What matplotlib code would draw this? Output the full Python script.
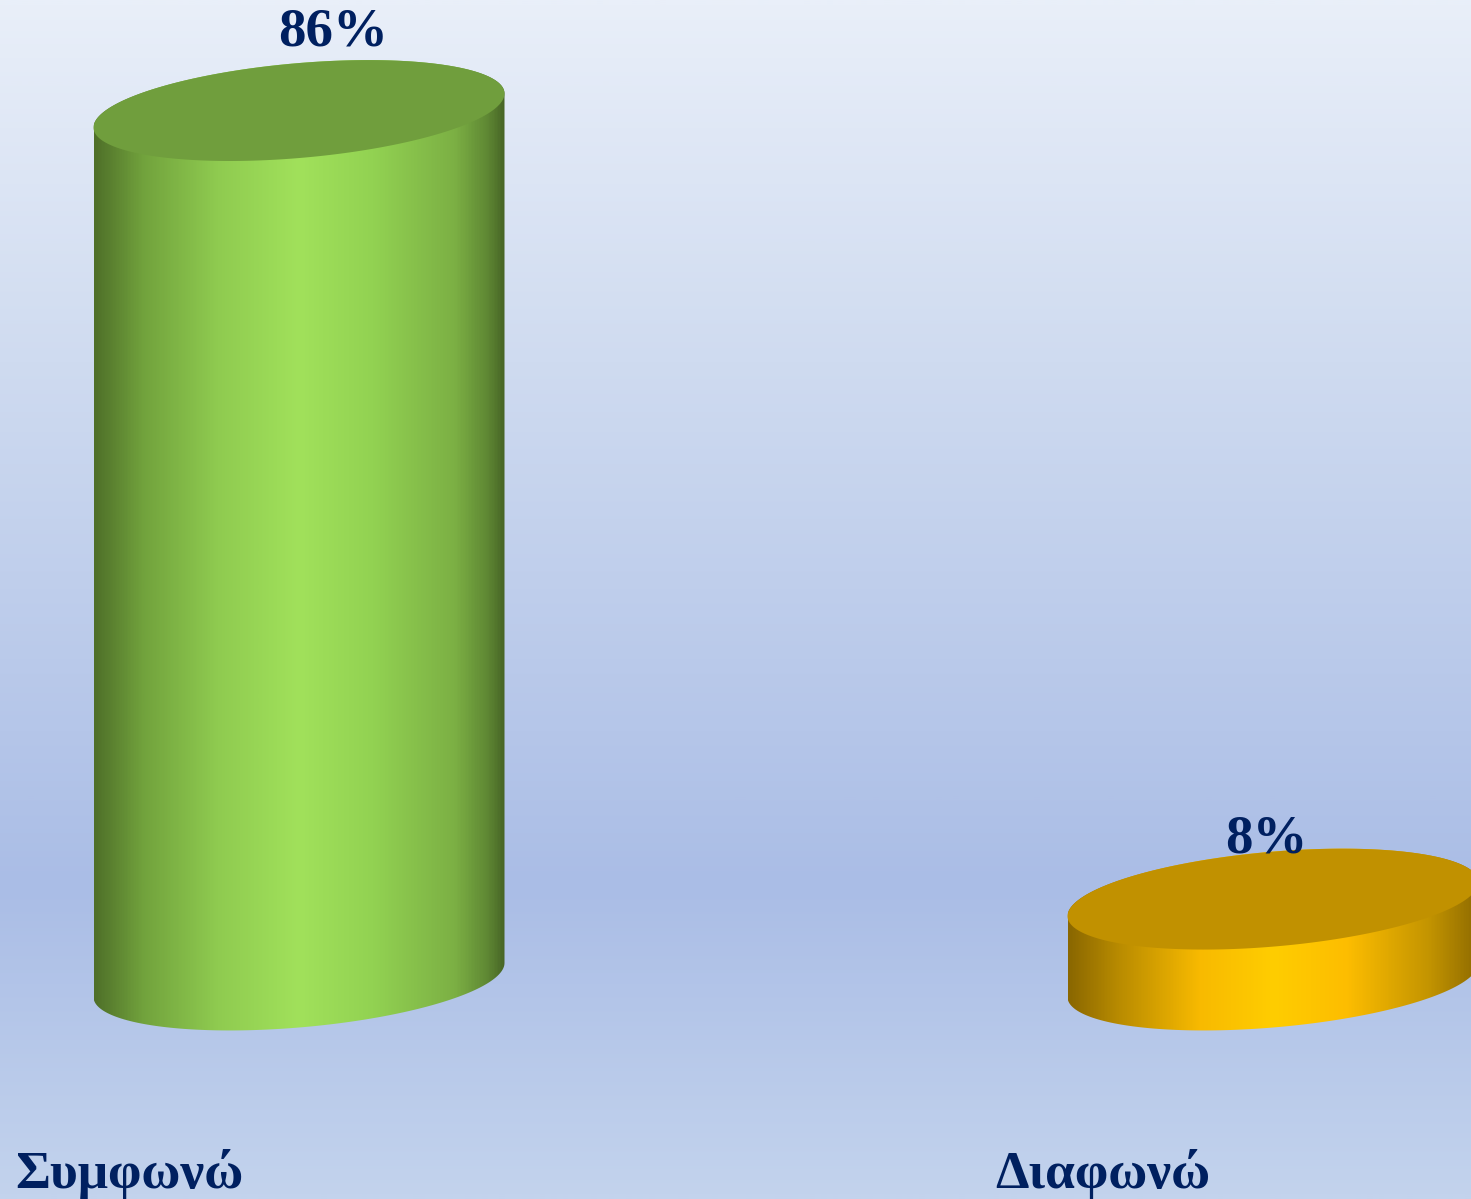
import numpy as np
import matplotlib
matplotlib.use("Agg")
import matplotlib.pyplot as plt
from matplotlib.colors import LinearSegmentedColormap
from matplotlib.patches import Polygon

categories = ["Συμφωνώ", "Διαφωνώ"]
values = [86, 8]
value_labels = ["86%", "8%"]

side_colors = [
    [(0, "#4f7029"), (0.12, "#72a33d"), (0.3, "#8fcb50"), (0.5, "#a1e15b"),
     (0.68, "#92d252"), (0.88, "#7cb044"), (0.96, "#5f8834"), (1, "#486626")],
    [(0, "#8a6700"), (0.12, "#b88b00"), (0.32, "#f8ba00"), (0.5, "#ffcd00"),
     (0.68, "#fdbd00"), (0.88, "#c39400"), (1, "#8f6b00")],
]
top_colors = ["#709e3d", "#c19100"]
text_color = "#002060"

bg_stops = [(0, "#e9eff9"), (0.3, "#cfdbf0"), (0.74, "#aabde6"), (1, "#c3d3ed")]

# pixels per unit on the two axes
px_x = 974.0
px_y = 10.11
half_w = 205.5 / px_x
half_h = 47.5 / px_y
skew = 17 / px_y

fig = plt.figure(figsize=(14.71, 11.99), dpi=100)
ax = fig.add_axes([0, 0, 1, 1])
xlim = (-299 / px_x, (1471 - 299) / px_x)
ylim = (-(1199 - 980) / px_y, 980 / px_y)

bg = LinearSegmentedColormap.from_list("bg", bg_stops)
ax.imshow(np.linspace(0, 1, 600).reshape(-1, 1), cmap=bg, aspect="auto",
          extent=(xlim[0], xlim[1], ylim[0], ylim[1]), origin="upper", zorder=0)


def ring(x, y, t):
    return np.column_stack([x + half_w * np.cos(t),
                            y + skew * np.cos(t) + half_h * np.sin(t)])


for i, v in enumerate(values):
    # side of the cylinder
    low = ring(i, 0, np.linspace(np.pi, 2 * np.pi, 120))
    up = ring(i, v, np.linspace(0, np.pi, 120))
    body = Polygon(np.vstack([low, up]), closed=True, fc="none", ec="none")
    ax.add_patch(body)
    cmap = LinearSegmentedColormap.from_list("side%d" % i, side_colors[i])
    im = ax.imshow(np.linspace(0, 1, 400).reshape(1, -1), cmap=cmap, aspect="auto",
                   extent=(i - half_w, i + half_w, -10, v + 10), zorder=2)
    im.set_clip_path(body)

    # top face
    top = ring(i, v, np.linspace(0, 2 * np.pi, 240))
    ax.add_patch(Polygon(top, closed=True, fc=top_colors[i], ec="none", zorder=3))

ax.set_xlim(*xlim)
ax.set_ylim(*ylim)
ax.axis("off")

label_font = dict(family="Liberation Serif", fontweight="bold", color=text_color,
                  ha="center", va="baseline", zorder=5)
label_offsets = [(34, 65), (-7, 47)]
for i, v in enumerate(values):
    ax.annotate(value_labels[i], (i, v), xytext=label_offsets[i],
                textcoords="offset pixels", fontsize=39.5, **label_font)
    ax.annotate(categories[i], (i, 0), xytext=(-170, -208),
                textcoords="offset pixels", fontsize=38.5, **label_font)

fig.savefig("out.png", dpi=100)
